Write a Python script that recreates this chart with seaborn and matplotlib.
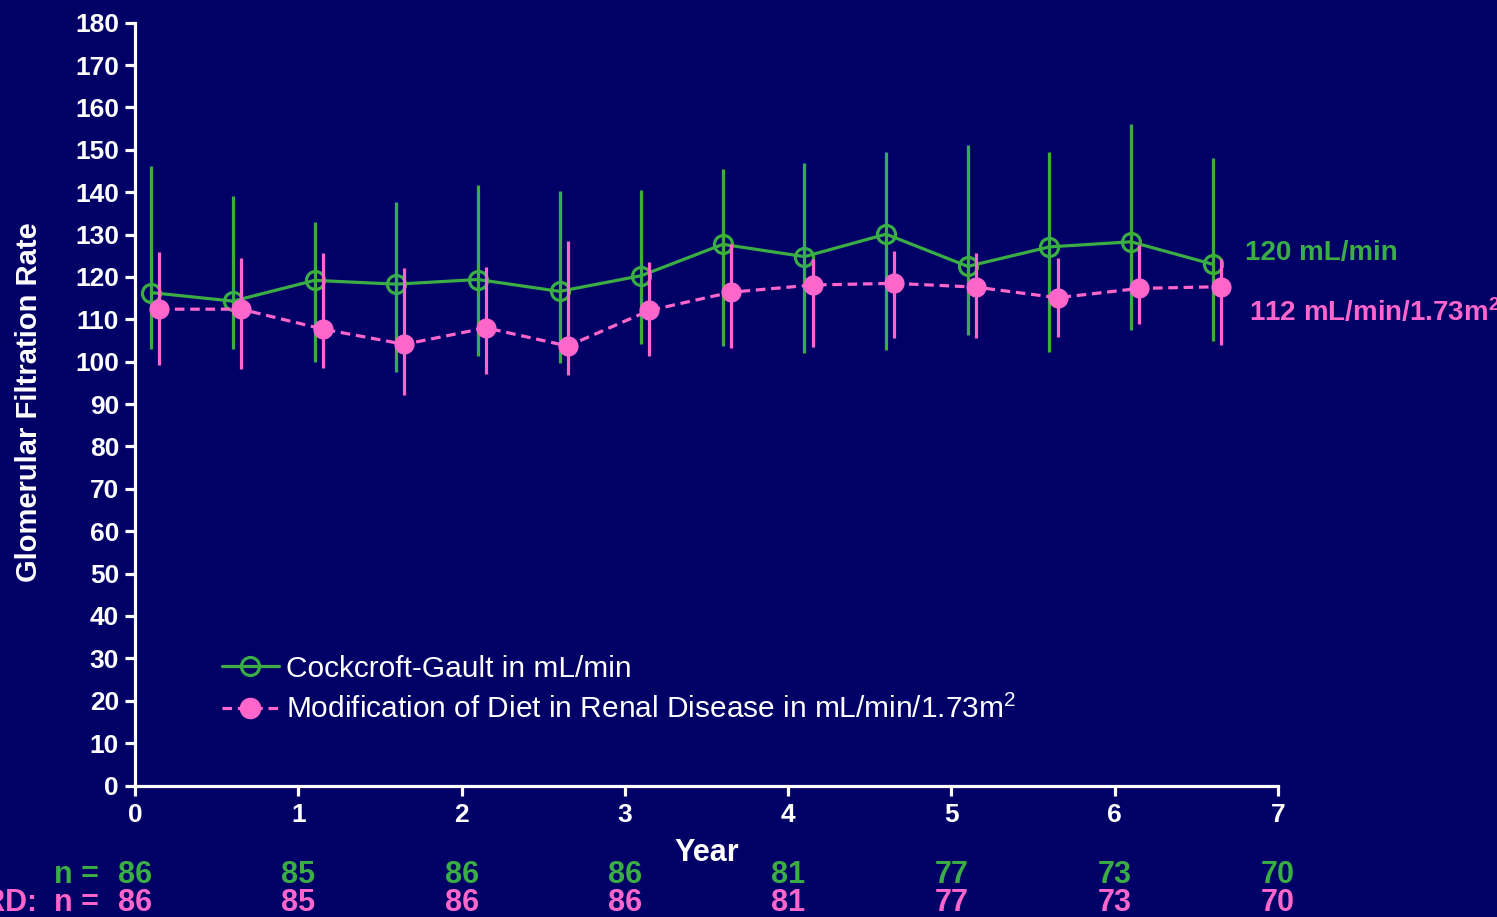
import matplotlib
matplotlib.use("Agg")
import matplotlib.pyplot as plt
import seaborn as sns
import pandas as pd
from matplotlib.lines import Line2D

# ---- data ----
years_cg = [0.1, 0.6, 1.1, 1.6, 2.1, 2.6, 3.1, 3.6, 4.1, 4.6, 5.1, 5.6, 6.1, 6.6]
years_mdrd = [0.15, 0.65, 1.15, 1.65, 2.15, 2.65, 3.15, 3.65, 4.15, 4.65, 5.15, 5.65, 6.15, 6.65]
cg_mean = [116.3, 114.3, 119.2, 118.3, 119.4, 116.6, 120.3, 127.7, 124.8, 130.1, 122.5, 127.1, 128.3, 123.0]
cg_upper = [146.3, 139.1, 133.0, 137.8, 141.7, 140.2, 140.5, 145.5, 147.0, 149.6, 151.1, 149.5, 156.2, 148.1]
cg_lower = [103.1, 103.1, 100.0, 97.5, 101.4, 99.6, 104.1, 103.8, 102.0, 102.7, 106.3, 102.3, 107.6, 104.8]
mdrd_mean = [112.4, 112.4, 107.7, 104.1, 108.0, 103.7, 112.1, 116.4, 118.1, 118.5, 117.6, 115.1, 117.3, 117.7]
mdrd_upper = [125.9, 124.5, 125.7, 122.0, 122.4, 128.4, 123.5, 127.7, 124.2, 126.1, 125.7, 124.5, 127.6, 124.3]
mdrd_lower = [99.2, 98.2, 98.6, 92.1, 97.1, 96.8, 101.4, 103.2, 103.5, 105.7, 105.7, 105.9, 109.0, 103.9]

n_years = [0, 1, 2, 3, 4, 5, 6, 7]
n_cg = [86, 85, 86, 86, 81, 77, 73, 70]
n_mdrd = [86, 85, 86, 86, 81, 77, 73, 70]

label_cg = "Cockcroft-Gault in mL/min"
label_mdrd = r"Modification of Diet in Renal Disease in mL/min/1.73m$^{2}$"
final_cg = "120 mL/min"
final_mdrd = r"112 mL/min/1.73m$^{\mathbf{2}}$"

BG = "#000066"
GREEN = "#3AAE44"
PINK = "#FF66CC"
WHITE = "white"

sns.set_theme(style="ticks")
plt.rcParams["font.family"] = ["Liberation Sans", "DejaVu Sans"]
plt.rcParams["mathtext.fontset"] = "custom"
plt.rcParams["mathtext.rm"] = "Liberation Sans"
plt.rcParams["mathtext.it"] = "Liberation Sans"
plt.rcParams["mathtext.bf"] = "Liberation Sans:bold"

df_cg = pd.DataFrame({"year": years_cg, "gfr": cg_mean})
df_md = pd.DataFrame({"year": years_mdrd, "gfr": mdrd_mean})

fig = plt.figure(figsize=(14.97, 9.17), dpi=100, facecolor=BG)
ax = fig.add_axes([135 / 1497, (917 - 785.5) / 917, (1278 - 135) / 1497, (785.5 - 22.7) / 917])
ax.set_facecolor(BG)

# error bars (asymmetric)
ax.vlines(years_cg, cg_lower, cg_upper, color=GREEN, lw=2.3, zorder=2)
sns.lineplot(data=df_cg, x="year", y="gfr", ax=ax, color=GREEN, lw=2.3,
             marker="o", markersize=13, markerfacecolor="none",
             markeredgecolor=GREEN, markeredgewidth=2.3, zorder=3)
ax.vlines(years_mdrd, mdrd_lower, mdrd_upper, color=PINK, lw=2.3, zorder=4)
sns.lineplot(data=df_md, x="year", y="gfr", ax=ax, color=PINK, lw=2.3,
             linestyle=(0, (3.0, 1.8)), marker="o", markersize=14.5,
             markerfacecolor=PINK, markeredgecolor=PINK, markeredgewidth=0, zorder=5)

ax.set_xlim(0, 7)
ax.set_ylim(0, 180)
ax.set_xticks(range(0, 8))
ax.set_yticks(range(0, 181, 10))
for s in ["top", "right"]:
    ax.spines[s].set_visible(False)
for s in ["left", "bottom"]:
    ax.spines[s].set_color(WHITE)
    ax.spines[s].set_linewidth(2.3)
ax.tick_params(axis="both", colors=WHITE, direction="out", length=7.5, width=2.3,
               labelsize=19)
ax.tick_params(axis="y", pad=4)
ax.tick_params(axis="x", pad=5)
for lbl in ax.get_xticklabels() + ax.get_yticklabels():
    lbl.set_fontweight("bold")
    lbl.set_color(WHITE)

ax.set_xlabel("Year", color=WHITE, fontsize=22, fontweight="bold")
ax.set_ylabel("Glomerular Filtration Rate", color=WHITE, fontsize=21, fontweight="bold")
ax.xaxis.set_label_coords((707 - 135) / 1143, (785.5 - 838) / 763)
ax.yaxis.set_label_coords((43 - 135) / 1143, (785.5 - 402) / 763)

# legend
handles = [
    Line2D([], [], color=GREEN, lw=2.3, marker="o", markersize=13, markerfacecolor="none",
           markeredgecolor=GREEN, markeredgewidth=2.3),
    Line2D([], [], color=PINK, lw=2.3, linestyle=(0, (3.0, 1.8)), marker="o", markersize=14.5,
           markerfacecolor=PINK, markeredgecolor=PINK),
]
leg = ax.legend(handles, [label_cg, label_mdrd], loc="lower left",
                bbox_to_anchor=((222 - 135) / 1143, (785.5 - 724) / 763),
                frameon=False, fontsize=21.5, handlelength=1.9, handletextpad=0.25,
                labelspacing=0.4, borderpad=0, borderaxespad=0)
for t in leg.get_texts():
    t.set_color(WHITE)

# end annotations
ax.text(6.80, 125.6, final_cg, color=GREEN, fontsize=20, fontweight="bold",
        ha="left", va="center", clip_on=False)
ax.text(6.82, 111.6, final_mdrd, color=PINK, fontsize=20, fontweight="bold",
        ha="left", va="center", clip_on=False)

# n rows
trans = ax.get_xaxis_transform()
row_cg = (785.5 - 875) / 763
row_md = (785.5 - 903) / 763
ax.text(-0.22, row_cg, "n =", color=GREEN, fontsize=22, fontweight="bold",
        ha="right", va="center", transform=trans, clip_on=False)
ax.text(-0.22, row_md, "MDRD:  n =", color=PINK, fontsize=22, fontweight="bold",
        ha="right", va="center", transform=trans, clip_on=False)
for x, a, b in zip(n_years, n_cg, n_mdrd):
    ax.text(x, row_cg, str(a), color=GREEN, fontsize=22, fontweight="bold",
            ha="center", va="center", transform=trans, clip_on=False)
    ax.text(x, row_md, str(b), color=PINK, fontsize=22, fontweight="bold",
            ha="center", va="center", transform=trans, clip_on=False)

fig.savefig("out.png", dpi=100, facecolor=BG)
